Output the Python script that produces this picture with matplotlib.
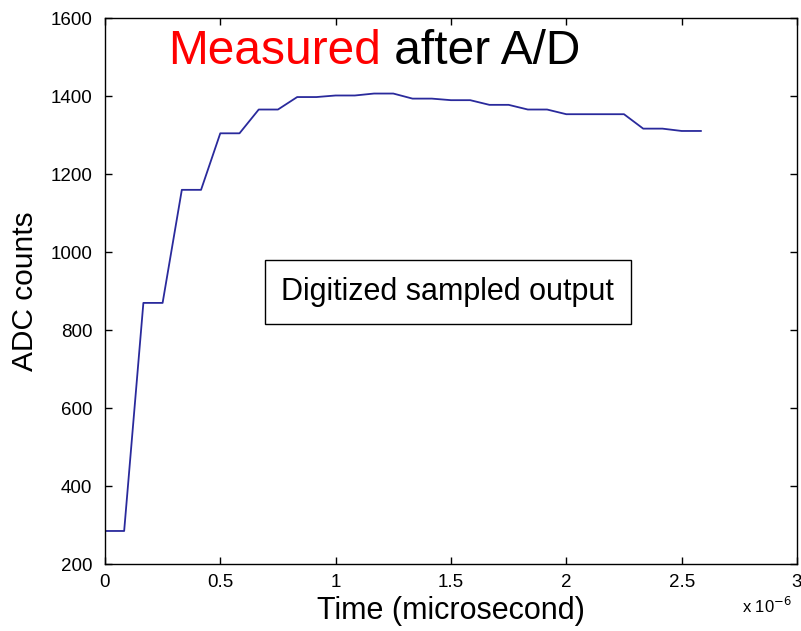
import matplotlib.pyplot as plt
import numpy as np

plt.rcParams['font.family'] = ['Liberation Sans', 'DejaVu Sans']

# muestras del ADC, una cada 1/12 de microsegundo
t_us = np.arange(32) / 12.0
counts = [285, 285, 870, 870, 1160, 1160, 1305, 1305, 1366, 1366,
          1398, 1398, 1402, 1402, 1407, 1407, 1394, 1394, 1390, 1390,
          1378, 1378, 1366, 1366, 1354, 1354, 1354, 1354, 1317, 1317,
          1311, 1311]

xticks = [0, 0.5, 1, 1.5, 2, 2.5, 3]
xtick_labels = ['0', '0.5', '1', '1.5', '2', '2.5', '3']
yticks = [200, 400, 600, 800, 1000, 1200, 1400, 1600]

fig = plt.figure(figsize=(8.01, 6.31), dpi=100)
ax = fig.add_axes([0.131, 0.106, 0.864, 0.865])

ax.plot(t_us, counts, color='#2a2a9c', linewidth=1.3)

ax.set_xlim(0, 3)
ax.set_ylim(200, 1600)
ax.set_xticks(xticks)
ax.set_xticklabels(xtick_labels)
ax.set_yticks(yticks)
ax.tick_params(direction='in', length=5, width=1, top=True, right=True,
               labelsize=13.5, colors='black')
ax.tick_params(axis='x', pad=7)
ax.tick_params(axis='y', pad=9)
for s in ax.spines.values():
    s.set_linewidth(1.0)

ax.set_xlabel('Time (microsecond)', fontsize=22, labelpad=4)
ax.set_ylabel('ADC counts', fontsize=21.5, labelpad=8)

# multiplicador del eje x
ax.text(0.92, -0.077, r'x 10$^{-6}$', transform=ax.transAxes,
        fontsize=12, ha='left', va='center')

# titulo dentro del grafico
t1 = ax.text(0.091, 0.94, 'Measured', transform=ax.transAxes,
             fontsize=34.5, color='red', ha='left', va='center')
fig.canvas.draw()
bb = t1.get_window_extent()
x_end = ax.transAxes.inverted().transform((bb.x1, bb.y0))[0]
ax.text(x_end, 0.94, ' after A/D', transform=ax.transAxes,
        fontsize=34.5, color='black', ha='left', va='center')

ax.text(0.255, 0.498, 'Digitized sampled output', transform=ax.transAxes,
        fontsize=22, ha='left', va='center',
        bbox=dict(boxstyle='square,pad=0.55', facecolor='white',
                  edgecolor='black', linewidth=1))

fig.savefig('out.png', dpi=100)
